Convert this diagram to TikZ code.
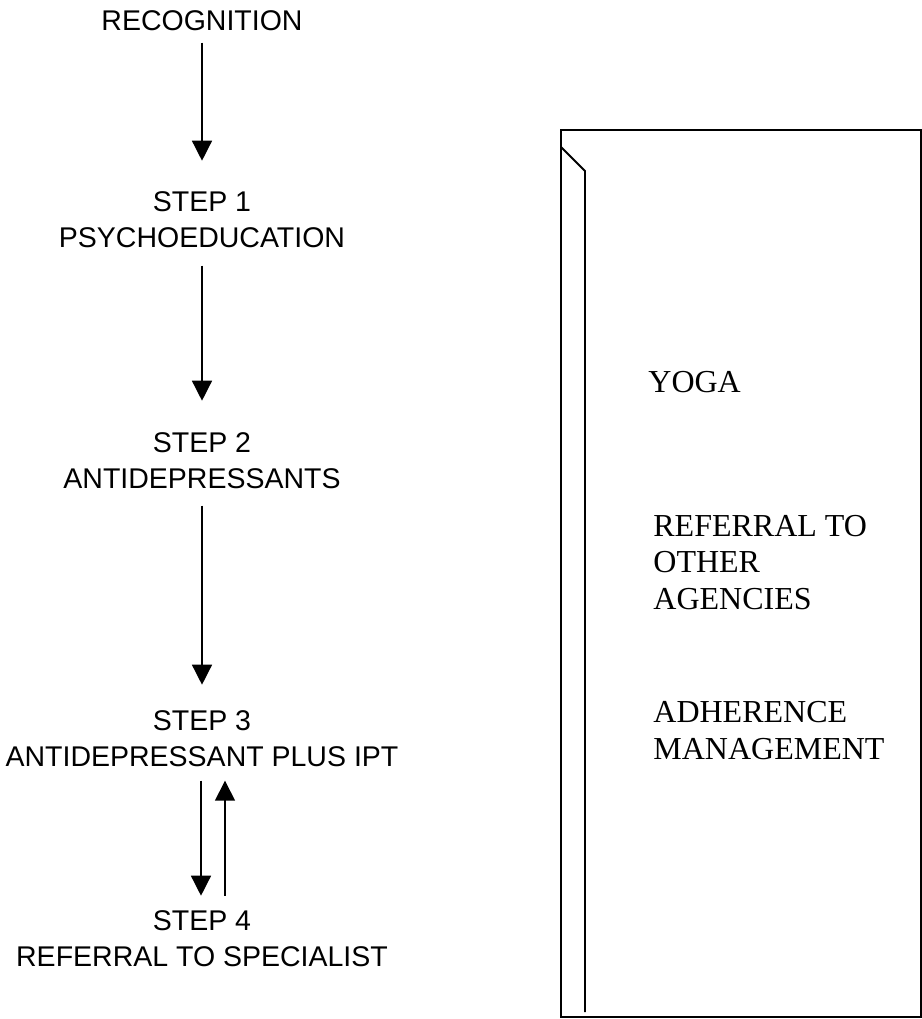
\documentclass[tikz,border=0pt]{standalone}
\usepackage{fontspec}
\setmainfont{Liberation Sans}
\newfontfamily\sideface{Liberation Serif}
\usetikzlibrary{arrows.meta}

\begin{document}
\begin{tikzpicture}[x=0.5pt,y=-0.5pt,
  % multi-line nodes: "base" is the baseline of the last line
  steptext/.style={font=\fontsize{14.25}{18}\selectfont, align=center,
    inner sep=0pt, anchor=base},
  sidetext/.style={font=\sideface\fontsize{16}{18.25}\selectfont, align=left,
    inner sep=0pt, anchor=base west},
  flow/.style={line width=0.7pt, -{Triangle[length=10pt,width=10pt]}},
  panel/.style={line width=0.9pt}]
\useasboundingbox (0,0) rectangle (922,1019);

% stepped care sequence
\node[steptext] (rec) at (202,30)  {RECOGNITION};
\node[steptext] (s1)  at (202,247) {STEP 1\\PSYCHOEDUCATION};
\node[steptext] (s2)  at (202,488) {STEP 2\\ANTIDEPRESSANTS};
\node[steptext] (s3)  at (202,766) {STEP 3\\ANTIDEPRESSANT PLUS IPT};
\node[steptext] (s4)  at (202,966) {STEP 4\\REFERRAL TO SPECIALIST};

\draw[flow, shorten <=6pt, shorten >=15pt]   (rec.south) -- (s1.north);
\draw[flow, shorten <=9pt, shorten >=15.5pt] (s1.south)  -- (s2.north);
\draw[flow, shorten <=8.5pt, shorten >=12.5pt] (s2.south)  -- (s3.north);
\draw[flow, shorten <=7pt, shorten >=7pt]
  ([xshift=-0.5pt]s3.south) -- ([xshift=-0.5pt]s4.north);
\draw[flow, shorten <=7pt, shorten >=7pt]
  ([xshift=11.5pt]s4.north) -- ([xshift=11.5pt]s3.south);

% side panel with supporting measures
\draw[panel] (561,130) rectangle (921,1017);
\draw[panel] (561,147) -- (585,171) -- (585,1012);
\node[sidetext] (yoga) at (648,392) {YOGA};
\node[sidetext] (refo) at (653,609) {REFERRAL TO\\OTHER\\AGENCIES};
\node[sidetext] (adh)  at (653,759) {ADHERENCE\\MANAGEMENT};
\end{tikzpicture}
\end{document}
